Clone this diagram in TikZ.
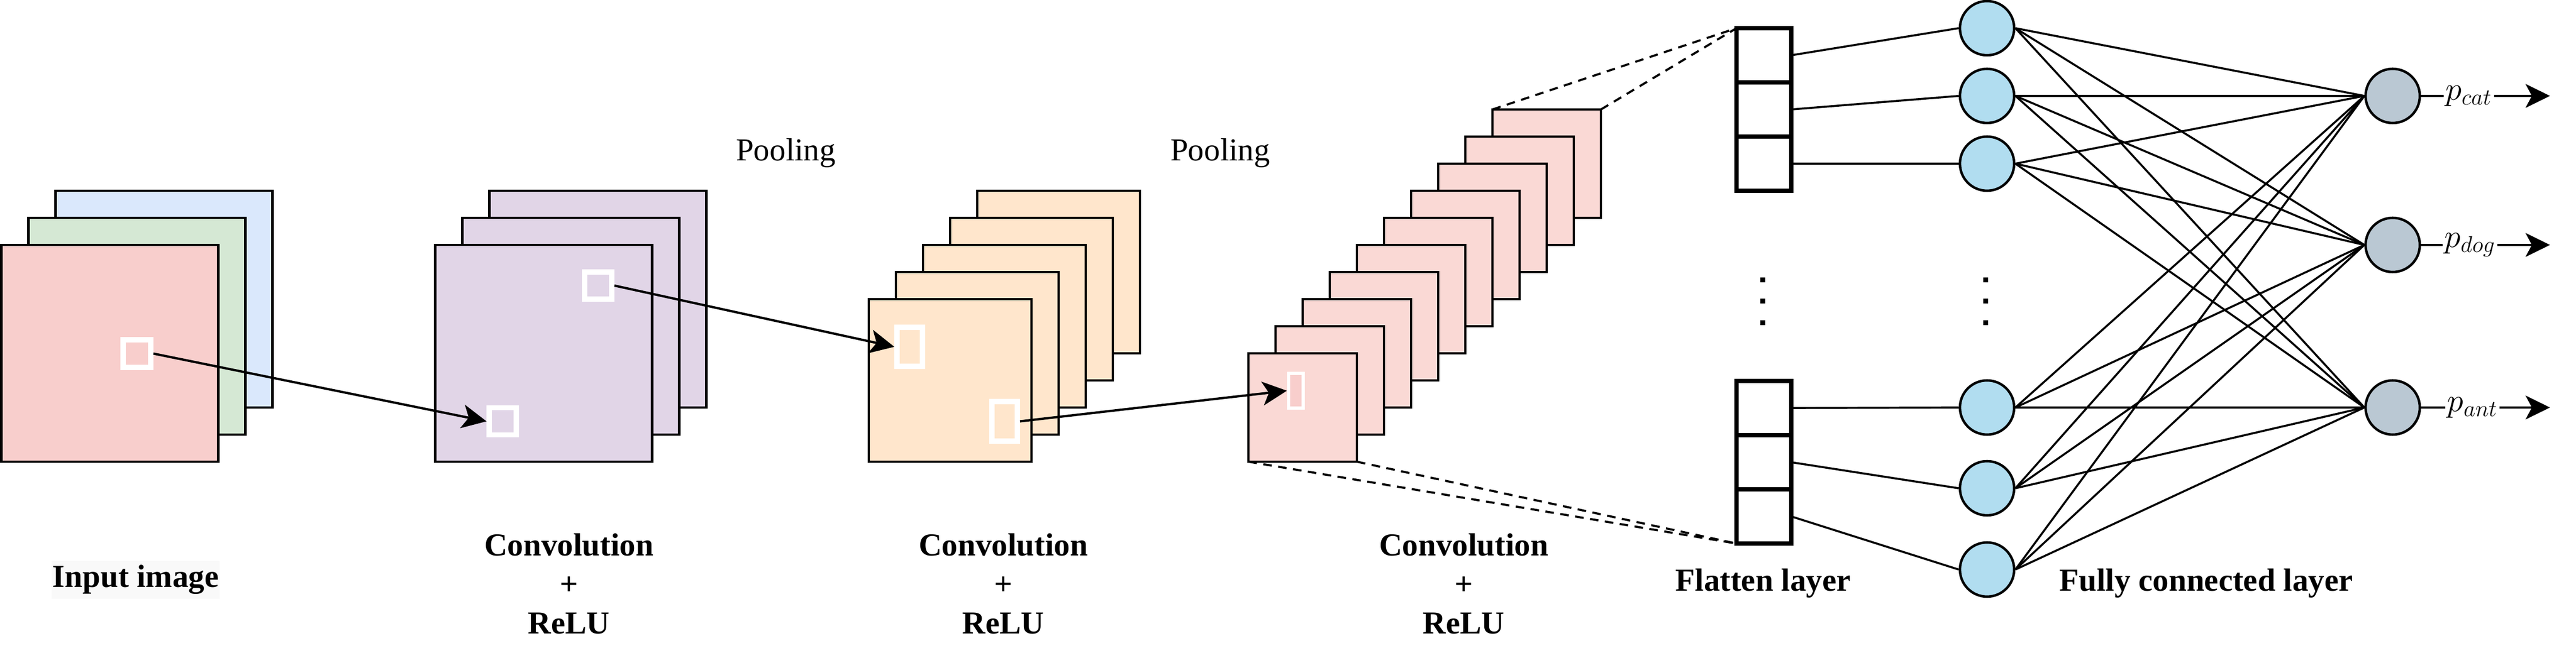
\documentclass[tikz,border=0pt]{standalone}
\usepackage{fontspec}
\setmainfont{Liberation Serif}
\usetikzlibrary{arrows.meta}

\definecolor{inred}{HTML}{F8CECC}
\definecolor{ingreen}{HTML}{D5E8D4}
\definecolor{inblue}{HTML}{DAE8FC}
\definecolor{cvpurple}{HTML}{E1D5E7}
\definecolor{cvorange}{HTML}{FFE6CC}
\definecolor{cvpink}{HTML}{FAD9D5}
\definecolor{hidblue}{HTML}{B1DDF0}
\definecolor{outgray}{HTML}{BAC8D3}
\definecolor{lblbg}{HTML}{F9F9F9}

\tikzset{
  fmap/.style={draw=black,line width=1.4pt,rectangle,inner sep=0pt,outer sep=0pt},
  win/.style={draw=white,line width=2.8pt,rectangle,inner sep=0pt},
  flat/.style={draw=black,line width=2.3pt,rectangle,fill=white,minimum width=1.01cm,minimum height=1cm,inner sep=0pt,outer sep=0pt},
  neuron/.style={circle,draw=black,line width=1.3pt,minimum size=1cm,inner sep=0pt},
  link/.style={line width=1.05pt},
  feed/.style={line width=1.2pt,-{Stealth[length=12.8pt,width=12.5pt,inset=3.3pt]}},
  cut/.style={line width=1.1pt,dash pattern=on 4.5pt off 3.4pt},
  lbl/.style={font=\fontsize{16.8}{20.5}\selectfont\bfseries,align=center,inner sep=1pt},
  plainlbl/.style={font=\fontsize{16.8}{20.5}\selectfont,inner sep=1pt},
  problbl/.style={font=\fontsize{17.28}{21}\selectfont,fill=white,inner sep=1pt}
}

\begin{document}
\begin{tikzpicture}[y=-1cm]
\useasboundingbox (0,0) rectangle (47.5,12.05);

% input image
\foreach \i/\c in {2/inblue,1/ingreen,0/inred}
  \node[fmap,fill=\c,minimum size=4cm] (in\i) at ({2.025+0.5*\i},{6.52-0.5*\i}) {};
\node[win,minimum size=0.51cm] (wi) at (2.525,6.525) {};

% convolution 1
\foreach \i in {2,1,0}
  \node[fmap,fill=cvpurple,minimum size=4cm] (ca\i) at ({10.025+0.5*\i},{6.52-0.5*\i}) {};
\node[win,minimum size=0.5cm] (wa1) at (9.27,7.775) {};
\node[win,minimum size=0.5cm] (wa2) at (11.03,5.27) {};

% convolution 2
\foreach \i in {4,3,...,0}
  \node[fmap,fill=cvorange,minimum size=3cm] (cb\i) at ({17.52+0.5*\i},{7.02-0.5*\i}) {};
\node[win,minimum width=0.47cm,minimum height=0.72cm] (wb1) at (16.775,6.40) {};
\node[win,minimum width=0.47cm,minimum height=0.73cm] (wb2) at (18.525,7.775) {};

% convolution 3
\foreach \i in {9,8,...,0}
  \node[fmap,fill=cvpink,minimum size=2cm] (cc\i) at ({24.02+0.5*\i},{7.52-0.5*\i}) {};
\node[win,line width=1.6pt,fill=inred,minimum width=0.275cm,minimum height=0.645cm] (wc) at (23.895,7.21) {};

\draw[feed] (wi.east) -- (wa1.west);
\draw[feed] (wa2.east) -- (wb1.west);
\draw[feed] (wb2.east) -- (wc.west);

% flatten
\foreach \i/\y in {1/1.02,2/2.02,3/3.02,4/7.53,5/8.53,6/9.53}
  \node[flat] (fl\i) at (32.525,\y) {};

\draw[cut] (cc9.north west) -- (fl1.north west);
\draw[cut] (cc9.north east) -- (fl1.north west);
\draw[cut] (cc0.south west) -- (fl6.south west);
\draw[cut] (cc0.south east) -- (fl6.south west);

% fully connected
\foreach \i/\y in {1/0.52,2/1.77,3/3.02,4/7.52,5/9.01,6/10.51}
  \node[neuron,fill=hidblue] (h\i) at (36.64,\y) {};
\foreach \j/\y in {1/1.77,2/4.52,3/7.52}
  \node[neuron,fill=outgray] (o\j) at (44.12,\y) {};

\foreach \i in {1,...,6}
  \draw[link] (fl\i.east) -- (h\i.west);
\foreach \i in {1,...,6}
  \foreach \j in {1,2,3}
    \draw[link] (h\i.east) -- (o\j.west);

\foreach \x in {32.5,36.61}
  \foreach \y in {5.165,5.555,5.96}
    \fill ({\x-0.045},{\y-0.045}) rectangle ++(0.09,0.09);

\coordinate (e1) at (47.02,1.77);
\coordinate (e2) at (47.02,4.52);
\coordinate (e3) at (47.02,7.52);
\draw[feed] (o1.east) -- node[problbl,pos=0.37] (p1) {$p_{cat}$} (e1);
\draw[feed] (o2.east) -- node[problbl,pos=0.38] (p2) {$p_{dog}$} (e2);
\draw[feed] (o3.east) -- node[problbl,pos=0.40] (p3) {$p_{ant}$} (e3);

% labels
\node[lbl,fill=lblbg,inner xsep=0.6pt,inner ysep=2.3pt] (tin) at (2.5,10.70) {Input image};
\node[lbl] (tc1) at (10.49,10.77) {Convolution\\+\\ReLU};
\node[lbl] (tc2) at (18.50,10.77) {Convolution\\+\\ReLU};
\node[lbl] (tc3) at (26.99,10.77) {Convolution\\+\\ReLU};
\node[plainlbl] (tp1) at (14.49,2.82) {Pooling};
\node[plainlbl] (tp2) at (22.50,2.82) {Pooling};
\node[lbl] (tfl) at (32.51,10.76) {Flatten layer};
\node[lbl] (tfc) at (40.68,10.76) {Fully connected layer};
\end{tikzpicture}
\end{document}
